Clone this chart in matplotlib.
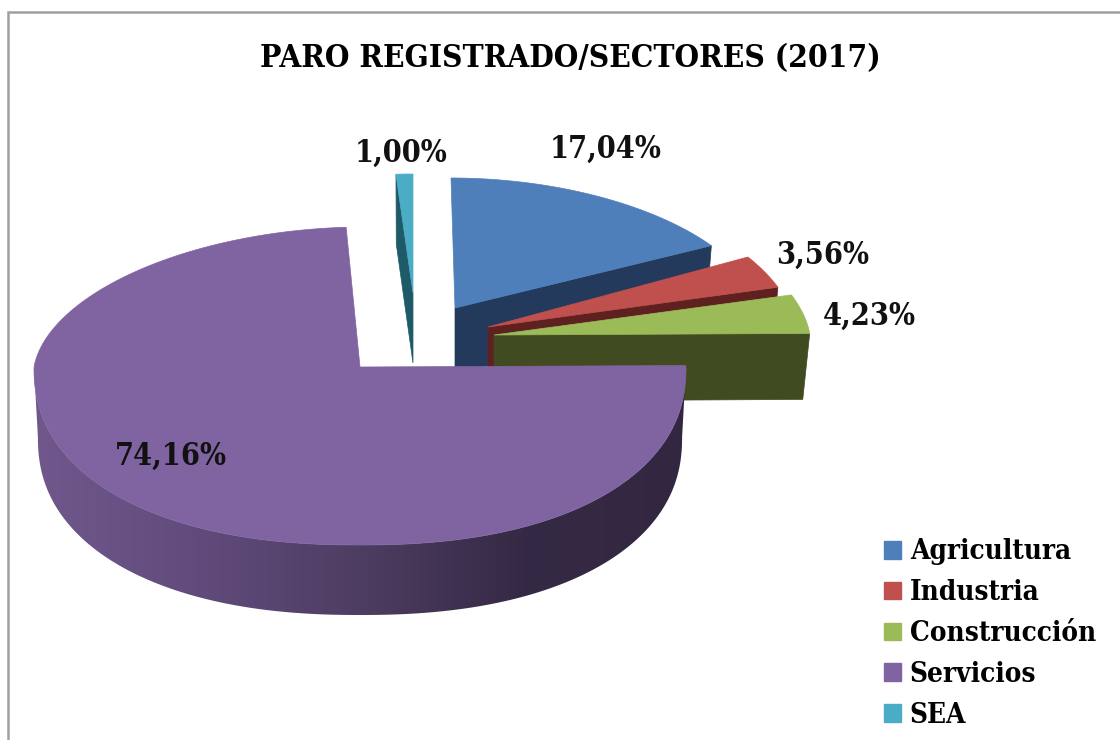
import numpy as np
import matplotlib
matplotlib.use("Agg")
import matplotlib.pyplot as plt
from matplotlib.patches import Polygon, Patch
from matplotlib.colors import LinearSegmentedColormap

# Data
sectors = ["Agricultura", "Industria", "Construcción", "Servicios", "SEA"]
shares = [17.04, 3.56, 4.23, 74.16, 1.00]
title = "PARO REGISTRADO/SECTORES (2017)"

# Styles, one entry per sector
top_colors = ["#4f7fba", "#bf504d", "#9bbb59", "#8064a2", "#4bacc6"]
wall_colors = ["#243a5c", "#5e2120", "#414b22", "#3a2d4d", "#1f5a68"]
shift_x = [95, 128, 134, 0, 53]
shift_y = [-59, -40, -32, 0, -74]
radius_x = [304, 308, 316, 326, 295]
radius_back = [130, 146, 147, 140, 119]
lean = [-4, 0, 0, 5, 0]
taper = [0.98, 0.98, 0.978, 0.988, 0.98]
depth = [66, 66, 66, 70, 70]

# Label anchors in pixels
label_x = [606, 823, 869, 171, 401]
label_y = [149, 255, 316, 456, 153]

center_x, center_y = 360, 367
radius_front = 178
serif = {"family": "DejaVu Serif", "stretch": "condensed", "weight": "bold"}

fig = plt.figure(figsize=(11.2, 7.4), dpi=100)
ax = fig.add_axes([0, 0, 1, 1])
ax.set_xlim(0, 1120)
ax.set_ylim(740, 0)
ax.axis("off")


def rim(theta, i):
    # theta is clockwise from twelve o'clock, the back of the pie is squeezed
    c = np.cos(theta)
    s = np.sin(theta)
    back = np.clip(c, 0, None)
    narrow = 1 - 0.08 * back
    ry = np.where(c > 0, radius_back[i], radius_front)
    # front half is a bit fuller than an ellipse
    power = np.where(c > 0, 1.0, 0.89)
    return (center_x + shift_x[i] + lean[i] * back ** 4
            + radius_x[i] * narrow * np.sign(s) * np.abs(s) ** power,
            center_y + shift_y[i] - ry * np.sign(c) * np.abs(c) ** power)


def drop(x, y, i):
    # same point on the bottom of the slice
    apex_x = center_x + shift_x[i]
    return apex_x + (x - apex_x) * taper[i], y + depth[i]


angles = np.cumsum([0] + shares) / sum(shares) * 2 * np.pi
wall_ramp = LinearSegmentedColormap.from_list(
    "wall", ["#70588c", "#614b7c", "#4e3d62", "#352a45", "#332640"])

# Back to front: SEA, Agricultura, Industria, Construcción, Servicios
for i in [4, 0, 1, 2, 3]:
    start, end = angles[i], angles[i + 1]
    apex = (center_x + shift_x[i], center_y + shift_y[i])
    xs, ys = rim(np.linspace(start, end, 300), i)

    if sectors[i] == "Servicios":
        # outer wall of the big slice, gradient clipped to its outline
        front = np.linspace(np.pi / 2, 3 * np.pi / 2, 240)
        xf, yf = rim(front, i)
        xb, yb = drop(xf, yf, i)
        outline = Polygon(list(zip(xf, yf)) + list(zip(xb, yb))[::-1], transform=ax.transData,
                          facecolor="none", edgecolor="none")
        ax.add_patch(outline)
        ramp = ax.imshow(np.linspace(0, 1, 256)[None, :], cmap=wall_ramp, aspect="auto",
                         extent=(33, 686, 640, 360), zorder=1)
        ramp.set_clip_path(outline)
        ax.set_xlim(0, 1120)
        ax.set_ylim(740, 0)
    else:
        # cut face that looks at the viewer
        side = end if np.sin((start + end) / 2) > 0 else start
        xe, ye = rim(side, i)
        ax.add_patch(Polygon([apex, (xe, ye), drop(xe, ye, i), drop(apex[0], apex[1], i)],
                             facecolor=wall_colors[i], edgecolor=wall_colors[i], lw=0.5, zorder=1))

    ax.add_patch(Polygon([apex] + list(zip(xs, ys)), facecolor=top_colors[i],
                         edgecolor=top_colors[i], lw=0.5, zorder=1))

# Value labels
for i, value in enumerate(shares):
    text = f"{value:.2f}%".replace(".", ",")
    ax.text(label_x[i], label_y[i], text, fontsize=22, color="#111111",
            ha="center", va="center", zorder=3, **serif)

ax.text(570, 59, title, fontsize=22.7, color="black", ha="center", va="center", zorder=3, **serif)

# Frame, open to the right and at the bottom
ax.plot([8, 8, 1120], [740, 12, 12], color="#a0a0a0", lw=1.8, solid_joinstyle="miter")

handles = [Patch(facecolor=c, edgecolor=c, label=s) for c, s in zip(top_colors, sectors)]
ax.legend(handles=handles, loc="lower left", bbox_to_anchor=(884 / 1120, 1 - 729 / 740),
          bbox_transform=fig.transFigure, frameon=False, borderpad=0, borderaxespad=0,
          handlelength=0.61, handleheight=0.61, handletextpad=0.32, labelspacing=0.5,
          prop={"family": "DejaVu Serif", "stretch": "condensed", "weight": "bold", "size": 20})

fig.savefig("out.png", dpi=100, facecolor="white")
